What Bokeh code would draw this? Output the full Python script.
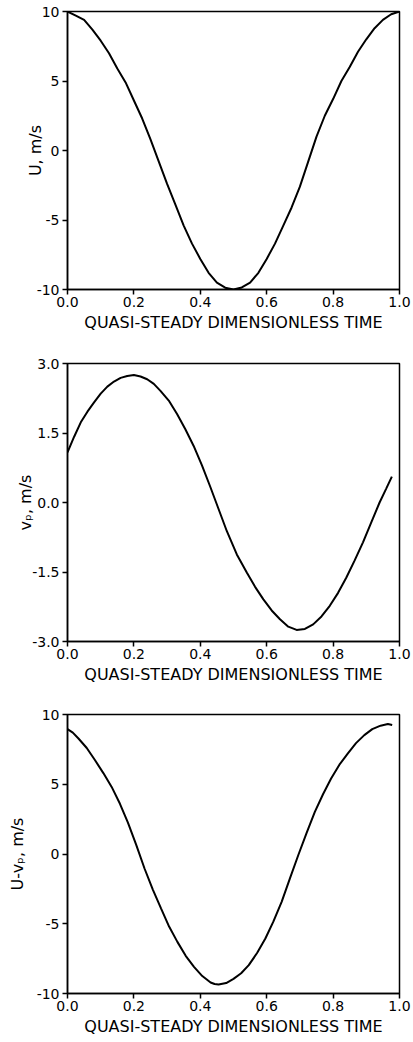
from bokeh.plotting import figure
from bokeh.layouts import column
from bokeh.models import Range1d, FixedTicker, PrintfTickFormatter
from bokeh.embed import file_html
from bokeh.resources import INLINE

# ---- data ----
t_u = [0.0, 0.025, 0.05, 0.075, 0.1, 0.125, 0.15, 0.175, 0.2, 0.225, 0.25, 0.275,
       0.3, 0.325, 0.35, 0.375, 0.4, 0.425, 0.45, 0.475, 0.5,
       0.525, 0.55, 0.575, 0.6, 0.625, 0.65, 0.675, 0.7, 0.725, 0.75, 0.775,
       0.8, 0.825, 0.85, 0.875, 0.9, 0.925, 0.95, 0.975, 1.0]
u_vals = [10.0, 9.7, 9.4, 8.7, 7.9, 7.0, 5.9, 4.9, 3.6, 2.3, 0.8, -0.8,
          -2.4, -3.9, -5.4, -6.7, -7.8, -8.8, -9.5, -9.87, -10.0,
          -9.85, -9.5, -8.8, -7.8, -6.7, -5.4, -4.1, -2.6, -0.8, 1.0, 2.5,
          3.7, 5.0, 6.0, 7.1, 8.0, 8.8, 9.4, 9.8, 10.0]

t_vp = [0.0, 0.02, 0.04, 0.06, 0.08, 0.1, 0.12, 0.14, 0.16, 0.18, 0.2, 0.22, 0.24,
        0.26, 0.28, 0.305, 0.33, 0.355, 0.38, 0.405, 0.43, 0.455, 0.48, 0.51, 0.54,
        0.565, 0.59, 0.615, 0.64, 0.665, 0.69, 0.715, 0.74, 0.765, 0.79, 0.815,
        0.84, 0.865, 0.89, 0.915, 0.94, 0.96, 0.977]
vp_vals = [1.08, 1.42, 1.73, 1.96, 2.16, 2.35, 2.50, 2.61, 2.69, 2.73, 2.75, 2.72, 2.66,
           2.56, 2.41, 2.20, 1.91, 1.58, 1.22, 0.80, 0.34, -0.14, -0.62, -1.12, -1.51,
           -1.82, -2.09, -2.33, -2.52, -2.68, -2.75, -2.73, -2.63, -2.46, -2.23, -1.95,
           -1.62, -1.25, -0.86, -0.43, 0.0, 0.30, 0.56]

t_rel = [0.0, 0.016, 0.033, 0.058, 0.083, 0.108, 0.133, 0.158, 0.182, 0.207, 0.232,
         0.257, 0.282, 0.306, 0.331, 0.356, 0.381, 0.406, 0.431, 0.443, 0.455, 0.478,
         0.5, 0.523, 0.546, 0.571, 0.596, 0.62, 0.645, 0.67, 0.695, 0.72, 0.745, 0.77,
         0.794, 0.819, 0.844, 0.869, 0.894, 0.918, 0.943, 0.965, 0.978]
rel_vals = [8.95, 8.70, 8.28, 7.60, 6.72, 5.80, 4.81, 3.60, 2.25, 0.65, -1.04,
            -2.55, -3.91, -5.20, -6.30, -7.30, -8.09, -8.75, -9.21, -9.32, -9.36, -9.25,
            -8.95, -8.55, -7.97, -7.10, -6.06, -4.85, -3.43, -1.75, -0.09, 1.50, 3.02, 4.30,
            5.41, 6.40, 7.20, 7.95, 8.52, 8.95, 9.20, 9.32, 9.25]

x_ticks = [0.0, 0.2, 0.4, 0.6, 0.8, 1.0]
y_ticks_u = [-10, -5, 0, 5, 10]
y_ticks_vp = [-3.0, -1.5, 0.0, 1.5, 3.0]
y_ticks_rel = [-10, -5, 0, 5, 10]

x_label = "QUASI-STEADY DIMENSIONLESS TIME"
FONT = "DejaVu Sans"


def make_panel(xs, ys, yr, yticks, yfmt, ylabel, height, borders, ylabel_standoff):
    left, right, top, bottom = borders
    p = figure(width=413, height=height, output_backend="svg", toolbar_location=None,
               x_range=Range1d(0, 1), y_range=Range1d(*yr),
               min_border_left=left, min_border_right=right,
               min_border_top=top, min_border_bottom=bottom)
    p.line(xs, ys, line_color="black", line_width=2)
    p.grid.visible = False
    p.outline_line_color = "black"
    p.outline_line_width = 1.5
    p.outline_line_alpha = 1.0
    p.background_fill_color = "white"
    p.border_fill_color = "white"

    for ax in (p.xaxis[0], p.yaxis[0]):
        ax.axis_line_color = "black"
        ax.axis_line_width = 1.5
        ax.major_tick_line_color = "black"
        ax.major_tick_line_width = 1.5
        ax.major_tick_out = 5
        ax.major_tick_in = 0
        ax.minor_tick_line_color = None
        ax.major_label_text_font = FONT
        ax.major_label_text_font_size = "14px"
        ax.major_label_text_color = "black"
        ax.axis_label_text_font = FONT
        ax.axis_label_text_font_size = "16px"
        ax.axis_label_text_font_style = "normal"
        ax.axis_label_text_color = "black"

    p.xaxis[0].ticker = FixedTicker(ticks=x_ticks)
    p.xaxis[0].formatter = PrintfTickFormatter(format="%.1f")
    p.xaxis[0].major_label_standoff = 2
    p.xaxis[0].axis_label = x_label
    p.xaxis[0].axis_label_standoff = 3

    p.yaxis[0].ticker = FixedTicker(ticks=yticks)
    p.yaxis[0].formatter = PrintfTickFormatter(format=yfmt)
    p.yaxis[0].major_label_standoff = 3
    p.yaxis[0].axis_label = ylabel
    p.yaxis[0].axis_label_standoff = ylabel_standoff
    return p


p1 = make_panel(t_u, u_vals, (-10, 10), y_ticks_u, "%d", "U, m/s",
                340, (67, 10, 11, 51), -11)
p2 = make_panel(t_vp, vp_vals, (-3, 3), y_ticks_vp, "%.1f", "vₚ, m/s",
                350, (66, 12, 23, 49), -6)
p3 = make_panel(t_rel, rel_vals, (-10, 10), y_ticks_rel, "%d", "U-vₚ, m/s",
                352, (64, 14, 24, 49), 7)

layout = column(p1, p2, p3, spacing=0)

with open("out.html", "w") as f:
    f.write(file_html(layout, INLINE))
